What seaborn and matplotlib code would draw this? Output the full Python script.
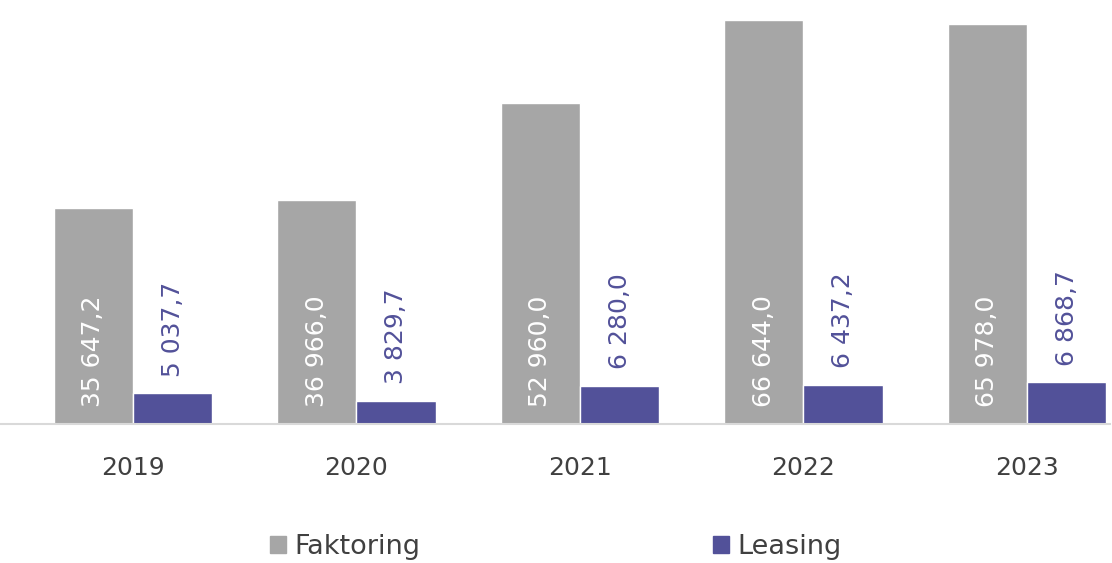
import pandas as pd
import matplotlib.pyplot as plt
import seaborn as sns
from matplotlib.patches import Patch

years = ['2019', '2020', '2021', '2022', '2023']
faktoring = [35647.2, 36966.0, 52960.0, 66644.0, 65978.0]
leasing = [5037.7, 3829.7, 6280.0, 6437.2, 6868.7]
series_names = ['Faktoring', 'Leasing']

GRAY = '#A6A6A6'
BLUE = '#525199'


def fmt(v):
    # space as thousands separator, comma as decimal mark
    return f"{v:,.1f}".replace(',', ' ').replace('.', ',')


df = pd.DataFrame({
    'year': years * 2,
    'value': faktoring + leasing,
    'series': [series_names[0]] * len(years) + [series_names[1]] * len(years),
})

sns.set_style('white')
plt.rcParams['font.family'] = ['DejaVu Sans']

fig = plt.figure(figsize=(11.12, 5.63), dpi=100)
ax = fig.add_axes([0.0, 0.247, 0.998, 0.753])

sns.barplot(data=df, x='year', y='value', hue='series', palette=[GRAY, BLUE],
            width=0.71, saturation=1, ax=ax, legend=False)

ax.set_ylim(0, 69950)
ax.set_xlim(-0.595, 4.371)

# labels: white inside base of gray bars, blue above leasing bars
for cont, color, inside in zip(ax.containers, ['white', BLUE], [True, False]):
    for patch, v in zip(cont.patches, (faktoring if inside else leasing)):
        cx = patch.get_x() + patch.get_width() / 2
        y = 0 if inside else patch.get_height()
        ax.annotate(fmt(v), (cx, y), xytext=(0, 12), textcoords='offset points',
                    rotation=90, ha='center', va='bottom', color=color, fontsize=18)

ax.set_xlabel('')
ax.set_ylabel('')
ax.set_yticks([])
for s in ['top', 'right', 'left']:
    ax.spines[s].set_visible(False)
ax.spines['bottom'].set_color('#D9D9D9')
ax.spines['bottom'].set_linewidth(1.5)
ax.tick_params(axis='x', length=0, labelsize=18, colors='#404040', pad=23)

handles = [Patch(color=GRAY, label=series_names[0]), Patch(color=BLUE, label=series_names[1])]
fig.legend(handles=handles, loc='center', bbox_to_anchor=(0.5, 0.028), ncol=2,
           frameon=False, fontsize=19.5, handlelength=0.6, handleheight=0.6,
           handletextpad=0.3, columnspacing=10.8, labelcolor='#404040')

fig.savefig('out.png', dpi=100)
